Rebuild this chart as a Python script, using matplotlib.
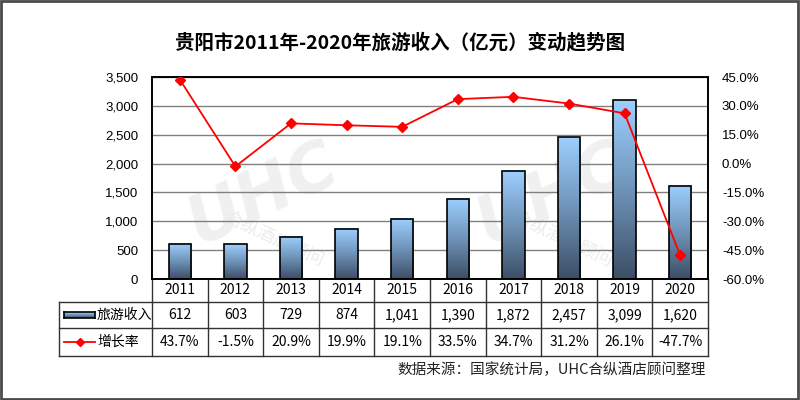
import numpy as np
import matplotlib
matplotlib.use('Agg')
import matplotlib.pyplot as plt
from matplotlib.colors import LinearSegmentedColormap
from matplotlib.patches import Rectangle
from matplotlib.lines import Line2D
from matplotlib.transforms import blended_transform_factory
from matplotlib.ticker import FuncFormatter, MultipleLocator

plt.rcParams['font.family'] = ['Noto Sans CJK SC', 'DejaVu Sans']

# data
years = ['2011', '2012', '2013', '2014', '2015', '2016', '2017', '2018', '2019', '2020']
income = [612, 603, 729, 874, 1041, 1390, 1872, 2457, 3099, 1620]
growth = [43.7, -1.5, 20.9, 19.9, 19.1, 33.5, 34.7, 31.2, 26.1, -47.7]

title = '贵阳市2011年-2020年旅游收入（亿元）变动趋势图'
source = '数据来源：国家统计局，UHC合纵酒店顾问整理'

tick_font = 'Liberation Sans'
bar_cmap = LinearSegmentedColormap.from_list('bar', ['#3c4e66', '#6f93b8', '#9dcfff'])

fig = plt.figure(figsize=(8, 4), dpi=100)
ax = fig.add_axes([0.19, 0.3025, 0.695, 0.505])
ax2 = ax.twinx()

x = np.arange(len(years))
bw = 0.4

# gradient bars
grad = np.linspace(0, 1, 256).reshape(-1, 1)
for xi, v in zip(x, income):
    ax.imshow(grad, extent=[xi - bw / 2, xi + bw / 2, 0, v], origin='lower',
              aspect='auto', cmap=bar_cmap, zorder=2)
ax.bar(x, income, width=bw, facecolor='none', edgecolor='black', linewidth=1.2, zorder=3)

ax.set_xlim(-0.5, len(years) - 0.5)
ax.set_ylim(0, 3500)
ax.yaxis.set_major_locator(MultipleLocator(500))
ax.yaxis.set_major_formatter(FuncFormatter(lambda v, p: f'{int(v):,}'))
ax.grid(axis='y', color='#808080', linewidth=1, zorder=1)
ax.set_axisbelow(True)
ax.set_xticks([])
ax.tick_params(axis='y', length=0, pad=10)
for lab in ax.get_yticklabels():
    lab.set_fontfamily(tick_font)
    lab.set_fontsize(9.5)

# growth line
ax2.plot(x, [g / 100 for g in growth], color='#ff0000', linewidth=1.3,
         marker='D', markersize=5, zorder=5)
ax2.set_ylim(-0.6, 0.45)
ax2.yaxis.set_major_locator(MultipleLocator(0.15))
ax2.yaxis.set_major_formatter(FuncFormatter(lambda v, p: f'{v * 100:.1f}%'))
ax2.tick_params(axis='y', length=0, pad=10)
for lab in ax2.get_yticklabels():
    lab.set_fontfamily(tick_font)
    lab.set_fontsize(9.5)

for a in (ax, ax2):
    for s in a.spines.values():
        s.set_color('black')
        s.set_linewidth(1.2)

# watermark (faint logo text)
for wx, wy in [(0.2, 0.42), (0.72, 0.42)]:
    ax.text(wx, wy, 'UHC', transform=ax.transAxes, fontsize=48, fontweight='bold',
            style='italic', color='#f0f0f0', rotation=25, ha='center', va='center',
            zorder=0.5, family='DejaVu Sans')
    ax.text(wx + 0.02, wy - 0.22, '合纵酒店顾问', transform=ax.transAxes, fontsize=13,
            color='#ececec', rotation=-25, ha='center', va='center', zorder=0.5)

# data table below the plot
tr = blended_transform_factory(ax.transData, ax.transAxes)
h = 202.0
y_year = -23 / h
y_inc = -49 / h
y_rate = -77 / h
x_left = -0.5 - 93 / 55.6
n = len(years)

def hline(x0, x1, y):
    ax.add_line(Line2D([x0, x1], [y, y], transform=tr, color='#333333',
                       linewidth=1, clip_on=False))

def vline(xv, y0, y1):
    ax.add_line(Line2D([xv, xv], [y0, y1], transform=tr, color='#333333',
                       linewidth=1, clip_on=False))

hline(x_left, n - 0.5, y_year)
hline(x_left, n - 0.5, y_inc)
hline(x_left, n - 0.5, y_rate)
vline(x_left, y_year, y_rate)
for i in range(n + 1):
    vline(i - 0.5, 0, y_rate)

for i in range(n):
    ax.text(i, y_year / 2, years[i], transform=tr, ha='center', va='center', fontsize=10)
    ax.text(i, (y_year + y_inc) / 2, f'{income[i]:,}', transform=tr,
            ha='center', va='center', fontsize=10)
    ax.text(i, (y_inc + y_rate) / 2, f'{growth[i]:.1f}%', transform=tr,
            ha='center', va='center', fontsize=10)

# legend keys inside the header column
kx0 = x_left + 5 / 55.6
kx1 = x_left + 36 / 55.6
ym = (y_year + y_inc) / 2
sw = ax.inset_axes([kx0, ym - 3 / h, kx1 - kx0, 6 / h], transform=tr)
sw.imshow(np.linspace(0, 1, 64).reshape(-1, 1), aspect='auto', cmap=bar_cmap, origin='lower')
sw.set_xticks([])
sw.set_yticks([])
for s in sw.spines.values():
    s.set_linewidth(1.2)
ax.text(kx1 + 2 / 55.6, ym, '旅游收入', transform=tr, ha='left', va='center', fontsize=10)

yr = (y_inc + y_rate) / 2
ax.add_line(Line2D([kx0, kx1], [yr, yr], transform=tr, color='#ff0000', linewidth=1.3,
                   clip_on=False))
ax.add_line(Line2D([(kx0 + kx1) / 2], [yr], transform=tr, color='#ff0000', marker='D',
                   markersize=4, clip_on=False))
ax.text(kx1 + 2 / 55.6, yr, '增长率', transform=tr, ha='left', va='center', fontsize=10)

# title and source
fig.text(0.5, 0.895, title, ha='center', va='center', fontsize=14, fontweight='bold')
fig.text(0.882, 0.075, source, ha='right', va='center', fontsize=10.5, color='#222222')

# outer frame
fig.patches.append(Rectangle((0.001, 0.002), 0.997, 0.995, transform=fig.transFigure,
                             fill=False, edgecolor='#4a4a4a', linewidth=2))

fig.savefig('out.png', dpi=100)
